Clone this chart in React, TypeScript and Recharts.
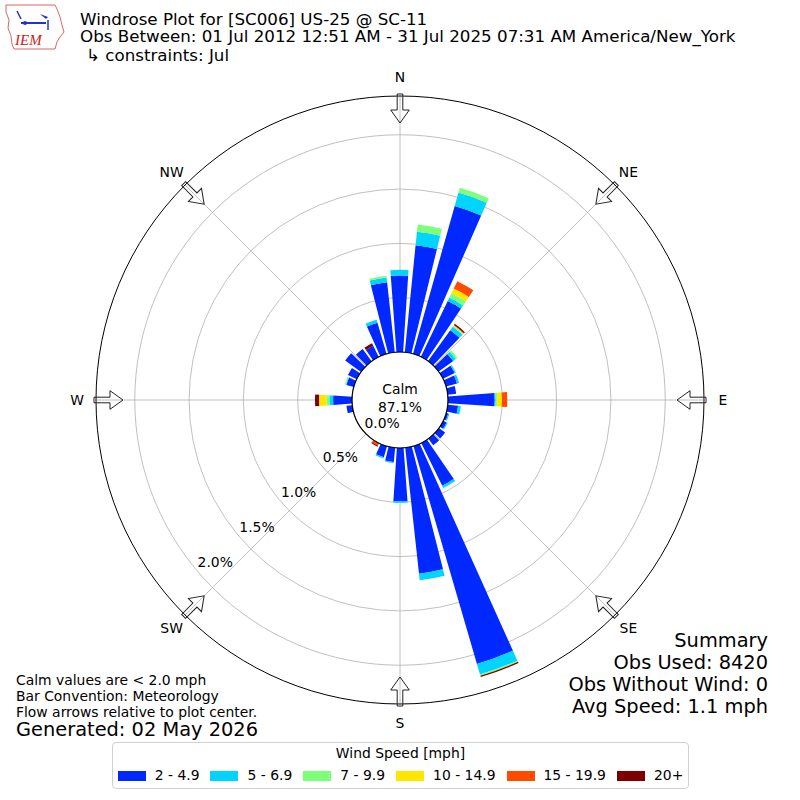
import React from 'react';
import {
  RadialBarChart,
  RadialBar,
  PolarAngleAxis,
  PolarRadiusAxis,
  PolarGrid,
} from 'recharts';

// wind direction bins, degrees (meteorological, from north clockwise)
const DIRECTIONS = [
  0, 10, 20, 30, 40, 50, 60, 70, 80, 90, 100, 110, 120, 130, 140, 150, 160, 170,
  180, 190, 200, 210, 220, 230, 240, 250, 260, 270, 280, 290, 300, 310, 320, 330, 340, 350,
];

const SPEED_BINS = ['2 - 4.9', '5 - 6.9', '7 - 9.9', '10 - 14.9', '15 - 19.9', '20+'];
const BIN_COLORS = ['#0028ff', '#00d4ff', '#7dff7a', '#ffe600', '#ff4a00', '#800000'];

// frequency (%) per direction, one list per speed bin
const SPEED_2_5 = [
  0.705, 0.99, 1.414, 0.57, 0.35, 0.166, 0.12, 0.105, 0.078, 0.43, 0.095, 0.02,
  0.035, 0.07, 0.075, 0.438, 2.09, 1.167, 0.49, 0.132, 0.105, 0, 0, 0,
  0, 0, 0.054, 0.174, 0, 0.07, 0.09, 0.18, 0.14, 0.115, 0.3, 0.648,
];
const SPEED_5_7 = [
  0.052, 0.125, 0.128, 0.035, 0.04, 0.03, 0.012, 0.02, 0, 0.01, 0.025, 0.01,
  0.01, 0, 0, 0.023, 0.1, 0.06, 0.015, 0.01, 0.012, 0, 0, 0,
  0, 0, 0, 0.035, 0, 0.005, 0, 0, 0, 0, 0.028, 0.045,
];
const SPEED_7_10 = [
  0, 0.067, 0.046, 0.045, 0.01, 0.018, 0, 0, 0, 0.014, 0, 0,
  0, 0, 0, 0, 0.012, 0, 0, 0, 0, 0, 0, 0,
  0, 0, 0, 0.025, 0, 0.01, 0, 0, 0, 0, 0, 0.015,
];
const SPEED_10_15 = [
  0, 0, 0, 0.048, 0.005, 0, 0, 0, 0, 0.043, 0, 0,
  0, 0, 0, 0, 0, 0, 0, 0, 0, 0, 0, 0,
  0, 0, 0, 0.07, 0, 0, 0, 0, 0, 0, 0, 0,
];
const SPEED_15_20 = [
  0, 0, 0, 0.075, 0.005, 0, 0, 0, 0, 0.049, 0, 0,
  0, 0, 0, 0, 0, 0, 0, 0, 0, 0.025, 0, 0,
  0, 0, 0, 0, 0, 0, 0, 0, 0, 0, 0, 0,
];
const SPEED_20_UP = [
  0, 0, 0, 0, 0.012, 0, 0, 0, 0, 0, 0, 0,
  0, 0, 0, 0, 0.013, 0, 0, 0, 0, 0.01, 0, 0,
  0, 0, 0, 0.037, 0, 0, 0, 0, 0, 0.025, 0, 0,
];

const RING_TICKS = [0, 0.5, 1, 1.5, 2];
const R_MAX = 2.357;

const COMPASS_LABELS = ['N', 'NE', 'E', 'SE', 'S', 'SW', 'W', 'NW'];
const COMPASS_BEARINGS = [0, 45, 90, 135, 180, 225, 270, 315];

const TITLE_LINES = [
  'Windrose Plot for [SC006] US-25 @ SC-11',
  'Obs Between: 01 Jul 2012 12:51 AM - 31 Jul 2025 07:31 AM America/New_York',
];
const CONSTRAINT = '\u21b3 constraints: Jul';
const CALM = ['Calm', '87.1%'];
const NOTES = [
  'Calm values are < 2.0 mph',
  'Bar Convention: Meteorology',
  'Flow arrows relative to plot center.',
];
const GENERATED = 'Generated: 02 May 2026';
const SUMMARY = ['Summary', 'Obs Used: 8420', 'Obs Without Wind: 0', 'Avg Speed: 1.1 mph'];
const LEGEND_TITLE = 'Wind Speed [mph]';

const SERIES = [SPEED_2_5, SPEED_5_7, SPEED_7_10, SPEED_10_15, SPEED_15_20, SPEED_20_UP];

const data = DIRECTIONS.map((dir, i) => {
  const row: Record<string, number> = { dir };
  SERIES.forEach((s, j) => {
    row['b' + j] = s[i];
  });
  return row;
});

const FONT = '"DejaVu Sans", sans-serif';
const CX = 400;
const CY = 400;
const HOLE = 48;
const OUTER = 304;

function RingTick(props: any) {
  const { x, y, payload } = props;
  return (
    <text
      x={x + 19}
      y={y - 8}
      textAnchor="middle"
      dominantBaseline="central"
      fontSize={13.9}
      fontFamily={FONT}
      fill="#000"
    >
      {Number(payload.value).toFixed(1)}%
    </text>
  );
}

function polar(r: number, bearing: number) {
  const a = (bearing * Math.PI) / 180;
  return { x: CX + r * Math.sin(a), y: CY - r * Math.cos(a) };
}

function Overlay() {
  const arrow =
    'M -2.8 -306 L 2.8 -306 L 2.8 -290 L 9.3 -290 L 0 -277 L -9.3 -290 L -2.8 -290 Z';
  return (
    <svg
      width={800}
      height={800}
      style={{ position: 'absolute', left: 0, top: 0, pointerEvents: 'none' }}
      fontFamily={FONT}
    >
      {/* logo */}
      <g>
        <path
          d="M6 5 L55 5 L57 9 L60 17 L62 25 L64 32 L60 37 L57 42 L55 49 L14 49 L12 44 L11 36 L8 28 L9 20 L6 12 Z"
          fill="none"
          stroke="#d04040"
          strokeWidth={0.8}
        />
        <line x1={21} y1={23} x2={46} y2={23} stroke="#2233cc" strokeWidth={2} />
        <circle cx={25} cy={23} r={2} fill="#2233cc" />
        <line x1={17} y1={11} x2={21} y2={19} stroke="#2233cc" strokeWidth={1.5} />
        <path d="M40 14 L48 17 L46 19 Z" fill="#2233cc" />
        <line x1={48} y1={20} x2={48} y2={30} stroke="#2233cc" strokeWidth={1.5} />
        <text x={15} y={45} fontSize={15} fontStyle="italic" fontFamily="'Liberation Serif', serif" fill="#cc2222">
          IEM
        </text>
      </g>

      {/* titles */}
      <text x={80} y={25} fontSize={16.7}>{TITLE_LINES[0]}</text>
      <text x={80} y={42} fontSize={16.7}>{TITLE_LINES[1]}</text>
      <text x={86} y={61} fontSize={16.7}>{CONSTRAINT}</text>

      {/* calm hole outline */}
      <circle cx={CX} cy={CY} r={HOLE} fill="none" stroke="#000" strokeWidth={1.2} />
      <text x={CX} y={389} textAnchor="middle" dominantBaseline="central" fontSize={13.9}>
        {CALM[0]}
      </text>
      <text x={CX} y={407} textAnchor="middle" dominantBaseline="central" fontSize={13.9}>
        {CALM[1]}
      </text>

      {/* flow arrows and compass labels */}
      {COMPASS_BEARINGS.map((b, i) => {
        const p = polar(323, b);
        return (
          <g key={COMPASS_LABELS[i]}>
            <path
              d={arrow}
              transform={`translate(${CX},${CY}) rotate(${b})`}
              fill="none"
              stroke="#222"
              strokeWidth={1}
            />
            <text
              x={p.x}
              y={p.y}
              textAnchor="middle"
              dominantBaseline="central"
              fontSize={13.9}
            >
              {COMPASS_LABELS[i]}
            </text>
          </g>
        );
      })}

      {/* notes */}
      {NOTES.map((t, i) => (
        <text key={t} x={16} y={685 + i * 16} fontSize={13.9}>
          {t}
        </text>
      ))}
      <text x={16} y={736} fontSize={19.4}>{GENERATED}</text>

      {/* summary */}
      {SUMMARY.map((t, i) => (
        <text key={t} x={768} y={647 + i * 22} textAnchor="end" fontSize={19.4}>
          {t}
        </text>
      ))}
    </svg>
  );
}

function Legend() {
  return (
    <div
      style={{
        position: 'absolute',
        left: 112,
        top: 742,
        width: 577,
        height: 47,
        boxSizing: 'border-box',
        border: '1px solid #d0d0d0',
        borderRadius: 4,
        background: '#fff',
        fontFamily: FONT,
        fontSize: 13.9,
        color: '#000',
      }}
    >
      <div style={{ textAlign: 'center', marginTop: 2, lineHeight: '17px' }}>{LEGEND_TITLE}</div>
      <div
        style={{
          display: 'flex',
          justifyContent: 'center',
          alignItems: 'center',
          gap: 11,
          marginTop: 5,
          lineHeight: '17px',
        }}
      >
        {SPEED_BINS.map((label, i) => (
          <div key={label} style={{ display: 'flex', alignItems: 'center', gap: 9 }}>
            <span style={{ display: 'inline-block', width: 28, height: 10, background: BIN_COLORS[i] }} />
            <span>{label}</span>
          </div>
        ))}
      </div>
    </div>
  );
}

export default function App() {
  return (
    <div style={{ position: 'absolute', left: 0, top: 0, width: 800, height: 800, background: '#fff' }}>
      <RadialBarChart
        width={800}
        height={800}
        cx={CX}
        cy={CY}
        innerRadius={HOLE}
        outerRadius={OUTER}
        startAngle={85}
        endAngle={-275}
        layout="centric"
        data={data}
        barCategoryGap="12.5%"
        margin={{ top: 0, right: 0, bottom: 0, left: 0 }}
      >
        <PolarGrid
          gridType="circle"
          innerRadius={HOLE}
          polarAngles={[90, 45, 0, -45, -90, -135, 180, 135]}
          stroke="#b0b0b0"
          strokeWidth={0.8}
        />
        <PolarAngleAxis
          dataKey="dir"
          type="category"
          tick={false}
          tickLine={false}
          axisLineType="circle"
          axisLine={{ stroke: '#000', strokeWidth: 1 }}
        />
        <PolarRadiusAxis
          type="number"
          domain={[0, R_MAX]}
          ticks={RING_TICKS}
          angle={-140.2}
          axisLine={false}
          tickLine={false}
          tick={<RingTick />}
        />
        {SERIES.map((_, j) => (
          <RadialBar
            key={j}
            dataKey={'b' + j}
            stackId="a"
            fill={BIN_COLORS[j]}
            isAnimationActive={false}
          />
        ))}
      </RadialBarChart>
      <Overlay />
      <Legend />
    </div>
  );
}
